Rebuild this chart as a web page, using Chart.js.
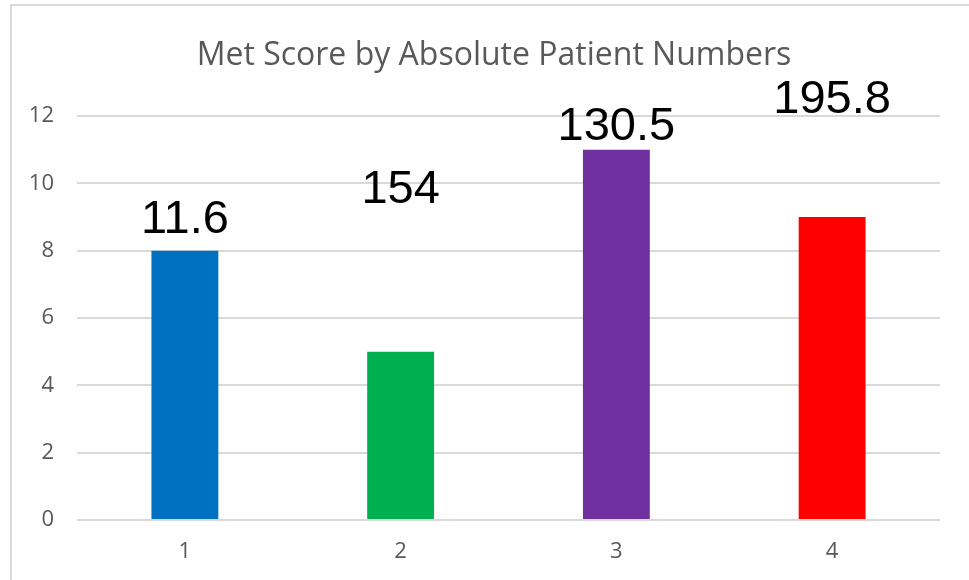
<!DOCTYPE html>
<html>
<head>
<meta charset="utf-8">
<script src="https://cdn.jsdelivr.net/npm/chart.js@4.4.0/dist/chart.umd.min.js"></script>
<style>
  body { margin: 0; background: #ffffff; }
  #wrap { width: 969px; height: 580px; }
</style>
</head>
<body>
<div id="wrap"><canvas id="metChart" width="969" height="580"></canvas></div>
<script>
// Data
const categories = ['1', '2', '3', '4'];
const scores = [8, 5, 11, 9];
const barColors = ['#0070C0', '#00B050', '#7030A0', '#FF0000'];
// Text shown above each bar, and the y value (axis units) where its baseline sits
const labelTexts = ['11.6', '154', '130.5', '195.8'];
const labelBaselines = [8.52, 9.41, 11.29, 12.09];
const titleText = 'Met Score by Absolute Patient Numbers';

// Draws the outer frame, the title and the big data labels
const decorations = {
    id: 'decorations',
    beforeDraw(chart) {
        const ctx = chart.ctx;
        ctx.save();
        ctx.strokeStyle = '#d9d9d9';
        ctx.lineWidth = 2;
        ctx.beginPath();
        ctx.moveTo(11, 600);
        ctx.lineTo(11, 5);
        ctx.lineTo(990, 5);
        ctx.stroke();
        ctx.restore();
    },
    afterDraw(chart) {
        const ctx = chart.ctx;
        const xScale = chart.scales.x;
        const yScale = chart.scales.y;
        ctx.save();
        // title
        ctx.fillStyle = '#595959';
        ctx.font = '32px "Open Sans"';
        ctx.textAlign = 'center';
        ctx.textBaseline = 'middle';
        ctx.fillText(titleText, 494, 56);
        // labels
        ctx.fillStyle = '#000000';
        ctx.font = '47px "Liberation Sans"';
        ctx.textBaseline = 'alphabetic';
        labelTexts.forEach((t, i) => {
            const x = xScale.getPixelForValue(i);
            const y = yScale.getPixelForValue(labelBaselines[i]);
            ctx.fillText(t, x, y);
        });
        ctx.restore();
    }
};

new Chart(document.getElementById('metChart').getContext('2d'), {
    type: 'bar',
    data: {
        labels: categories,
        datasets: [{
            data: scores,
            backgroundColor: barColors,
            borderWidth: 0,
            categoryPercentage: 1,
            barPercentage: 0.31
        }]
    },
    options: {
        responsive: false,
        animation: false,
        layout: {
            padding: { left: 12, right: 29, top: 116, bottom: 16 }
        },
        plugins: {
            legend: { display: false },
            title: { display: false },
            tooltip: { enabled: false }
        },
        scales: {
            x: {
                grid: { display: false, drawTicks: false },
                border: { display: false },
                ticks: {
                    color: '#595959',
                    font: { family: 'Open Sans', size: 22 },
                    padding: 19
                },
                afterFit: function(scale) { scale.height = 44; }
            },
            y: {
                min: 0,
                max: 12,
                grid: { color: '#d9d9d9', lineWidth: 2, drawTicks: false },
                border: { display: false },
                ticks: {
                    stepSize: 2,
                    color: '#595959',
                    font: { family: 'Open Sans', size: 22 },
                    padding: 23
                },
                afterFit: function(scale) { scale.width = 65; }
            }
        }
    },
    plugins: [decorations]
});
</script>
</body>
</html>
